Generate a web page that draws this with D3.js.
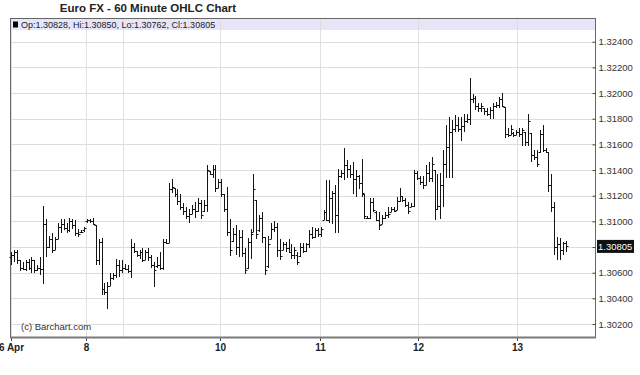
<!DOCTYPE html>
<html>
<head>
<meta charset="utf-8">
<script src="https://cdn.jsdelivr.net/npm/d3@7"></script>
<style>
  body { margin: 0; background: #fff; }
  svg { display: block; font-family: "Liberation Sans", Arial, sans-serif; }
</style>
</head>
<body>
<svg id="ohlc-chart" width="640" height="375"></svg>
<script>
// hourly bars
const opens = [
  1.3072,1.3074,1.3076,1.3070,1.3064,1.3063,1.3068,1.3064,1.3070,1.3062,
  1.3064,1.3063,1.3098,1.3080,1.3086,1.3078,1.3086,1.3096,1.3098,1.3095,
  1.3093,1.3100,1.3097,1.3091,1.3092,1.3093,1.3100,1.3101,1.3100,1.3097,
  1.3070,1.3084,1.3047,1.3045,1.3050,1.3056,1.3058,1.3066,1.3062,1.3064,
  1.3063,1.3061,1.3080,1.3077,1.3074,1.3076,1.3070,1.3076,1.3072,1.3066,
  1.3065,1.3066,1.3064,1.3084,1.3083,1.3125,1.3126,1.3121,1.3116,1.3111,
  1.3108,1.3104,1.3106,1.3110,1.3108,1.3114,1.3108,1.3113,1.3139,1.3137,
  1.3141,1.3126,1.3131,1.3121,1.3110,1.3092,1.3085,1.3090,1.3080,1.3088,
  1.3075,1.3064,1.3084,1.3092,1.3117,1.3093,1.3103,1.3088,1.3065,1.3086,
  1.3094,1.3096,1.3078,1.3078,1.3082,1.3079,1.3076,1.3074,1.3074,1.3073,
  1.3080,1.3077,1.3082,1.3090,1.3088,1.3093,1.3090,1.3101,1.3107,1.3101,
  1.3118,1.3122,1.3105,1.3135,1.3138,1.3144,1.3141,1.3137,1.3133,1.3135,
  1.3130,1.3121,1.3103,1.3103,1.3115,1.3107,1.3101,1.3098,1.3103,1.3105,
  1.3107,1.3110,1.3109,1.3116,1.3120,1.3117,1.3113,1.3111,1.3112,1.3138,
  1.3134,1.3131,1.3128,1.3138,1.3134,1.3140,1.3110,1.3112,1.3128,1.3145,
  1.3158,1.3170,1.3172,1.3175,1.3172,1.3174,1.3178,1.3180,1.3195,1.3196,
  1.3190,1.3188,1.3188,1.3186,1.3184,1.3187,1.3190,1.3191,1.3195,1.3189,
  1.3168,1.3167,1.3169,1.3167,1.3170,1.3168,1.3170,1.3162,1.3169,1.3152,
  1.3150,1.3154,1.3168,1.3156,1.3154,1.3128,1.3111,1.3080,1.3082,1.3078,
  1.30828
]
const highs = [
  1.3076,1.3078,1.3078,1.3070,1.3068,1.3070,1.3071,1.3072,1.3070,1.3066,
  1.3072,1.3112,1.3102,1.3089,1.3091,1.3088,1.3099,1.3102,1.3102,1.3099,
  1.3103,1.3102,1.3101,1.3094,1.3093,1.3096,1.3102,1.3102,1.3103,1.3097,
  1.3086,1.3087,1.3052,1.3053,1.3060,1.3060,1.3071,1.3070,1.3070,1.3067,
  1.3066,1.3086,1.3083,1.3077,1.3078,1.3079,1.3078,1.3079,1.3074,1.3068,
  1.3072,1.3076,1.3086,1.3086,1.3130,1.3133,1.3126,1.3125,1.3121,1.3114,
  1.3111,1.3110,1.3113,1.3115,1.3118,1.3117,1.3117,1.3144,1.3139,1.3144,
  1.3144,1.3133,1.3133,1.3121,1.3127,1.3102,1.3095,1.3097,1.3093,1.3093,
  1.3079,1.3087,1.3094,1.3137,1.3117,1.3105,1.3107,1.3088,1.3089,1.3099,
  1.3100,1.3099,1.3086,1.3084,1.3084,1.3086,1.3082,1.3080,1.3076,1.3083,
  1.3083,1.3083,1.3093,1.3096,1.3095,1.3095,1.3096,1.3109,1.3132,1.3132,
  1.3124,1.3128,1.3141,1.3140,1.3157,1.3148,1.3144,1.3146,1.3140,1.3136,
  1.3149,1.3121,1.3104,1.3118,1.3118,1.3108,1.3107,1.3105,1.3107,1.3111,
  1.3111,1.3111,1.3119,1.3126,1.3120,1.3118,1.3115,1.3114,1.3140,1.3139,
  1.3135,1.3135,1.3144,1.3146,1.3150,1.3140,1.3137,1.3138,1.3156,1.3175,
  1.3181,1.3179,1.3183,1.3181,1.3181,1.3184,1.3184,1.3212,1.3199,1.3198,
  1.3192,1.3192,1.3188,1.3188,1.3189,1.3192,1.3193,1.3197,1.3200,1.3189,
  1.3173,1.3175,1.3170,1.3171,1.3173,1.3173,1.3170,1.3184,1.3169,1.3156,
  1.3156,1.3171,1.3175,1.3157,1.3154,1.3137,1.3115,1.3088,1.3087,1.3084,
  1.30850
]
const lows = [
  1.3066,1.3068,1.3067,1.3061,1.3062,1.3061,1.3062,1.3060,1.3060,1.3061,
  1.3058,1.3051,1.3072,1.3079,1.3075,1.3078,1.3086,1.3091,1.3093,1.3091,
  1.3092,1.3094,1.3089,1.3088,1.3091,1.3092,1.3099,1.3099,1.3097,1.3066,
  1.3066,1.3043,1.3043,1.3032,1.3050,1.3054,1.3056,1.3057,1.3060,1.3062,
  1.3060,1.3056,1.3075,1.3072,1.3071,1.3068,1.3070,1.3069,1.3064,1.3049,
  1.3064,1.3062,1.3062,1.3082,1.3083,1.3122,1.3119,1.3113,1.3109,1.3105,
  1.3102,1.3099,1.3106,1.3103,1.3107,1.3102,1.3107,1.3107,1.3136,1.3134,
  1.3123,1.3126,1.3119,1.3107,1.3089,1.3073,1.3084,1.3074,1.3072,1.3072,
  1.3059,1.3063,1.3071,1.3092,1.3086,1.3092,1.3083,1.3058,1.3064,1.3086,
  1.3092,1.3072,1.3070,1.3078,1.3076,1.3075,1.3071,1.3071,1.3066,1.3072,
  1.3075,1.3076,1.3079,1.3086,1.3087,1.3088,1.3088,1.3101,1.3100,1.3099,
  1.3098,1.3091,1.3091,1.3134,1.3132,1.3134,1.3134,1.3121,1.3119,1.3125,
  1.3119,1.3102,1.3102,1.3102,1.3107,1.3100,1.3093,1.3098,1.3102,1.3103,
  1.3107,1.3107,1.3109,1.3115,1.3115,1.3111,1.3106,1.3111,1.3111,1.3132,
  1.3128,1.3125,1.3128,1.3131,1.3131,1.3101,1.3109,1.3102,1.3111,1.3134,
  1.3134,1.3134,1.3170,1.3170,1.3163,1.3170,1.3177,1.3175,1.3192,1.3187,
  1.3185,1.3185,1.3183,1.3182,1.3180,1.3180,1.3188,1.3188,1.3189,1.3165,
  1.3166,1.3167,1.3166,1.3167,1.3166,1.3159,1.3159,1.3159,1.3146,1.3148,
  1.3142,1.3153,1.3154,1.3153,1.3123,1.3107,1.3074,1.3070,1.3070,1.3074,
  1.30762
]
const closes = [
  1.3074,1.3076,1.3070,1.3064,1.3063,1.3068,1.3064,1.3070,1.3062,1.3064,
  1.3063,1.3098,1.3080,1.3086,1.3078,1.3086,1.3096,1.3098,1.3095,1.3093,
  1.3100,1.3097,1.3091,1.3090,1.3092,1.3095,1.3101,1.3100,1.3098,1.3070,
  1.3084,1.3047,1.3045,1.3050,1.3056,1.3058,1.3066,1.3062,1.3064,1.3063,
  1.3061,1.3080,1.3077,1.3074,1.3076,1.3070,1.3076,1.3072,1.3066,1.3062,
  1.3066,1.3064,1.3084,1.3083,1.3125,1.3127,1.3121,1.3116,1.3111,1.3108,
  1.3104,1.3106,1.3110,1.3108,1.3114,1.3105,1.3113,1.3140,1.3137,1.3141,
  1.3126,1.3131,1.3121,1.3110,1.3092,1.3078,1.3090,1.3080,1.3088,1.3075,
  1.3062,1.3084,1.3090,1.3125,1.3090,1.3103,1.3088,1.3062,1.3082,1.3094,
  1.3096,1.3078,1.3073,1.3082,1.3079,1.3076,1.3074,1.3078,1.3068,1.3080,
  1.3077,1.3082,1.3090,1.3088,1.3093,1.3090,1.3094,1.3107,1.3101,1.3118,
  1.3122,1.3105,1.3135,1.3138,1.3144,1.3141,1.3137,1.3133,1.3135,1.3130,
  1.3122,1.3104,1.3103,1.3115,1.3109,1.3101,1.3097,1.3103,1.3105,1.3106,
  1.3110,1.3108,1.3116,1.3120,1.3117,1.3113,1.3108,1.3112,1.3138,1.3134,
  1.3131,1.3128,1.3138,1.3134,1.3145,1.3110,1.3112,1.3128,1.3145,1.3158,
  1.3170,1.3172,1.3175,1.3172,1.3174,1.3178,1.3180,1.3195,1.3196,1.3190,
  1.3188,1.3190,1.3186,1.3184,1.3187,1.3190,1.3191,1.3195,1.3190,1.3168,
  1.3167,1.3172,1.3167,1.3170,1.3168,1.3171,1.3162,1.3178,1.3152,1.3150,
  1.3145,1.3168,1.3156,1.3154,1.3128,1.3111,1.3080,1.3082,1.3078,1.3083,
  1.30805
]

// bar number where each day starts, and its label
const dayStartBar = [0, 25.7, 38.3, 71.5, 105.8, 139.3, 173.2]
const dayLabels = ["6 Apr", "8", "", "10", "11", "12", "13"]

const priceTicks = [1.302, 1.304, 1.306, 1.308, 1.310, 1.312, 1.314, 1.316, 1.318, 1.320, 1.322, 1.324]

let svg = d3.select("#ohlc-chart")

let plot = { left: 10, right: 595, top: 18, bottom: 337 }

let x = d3.scaleLinear()
    .domain([0, opens.length - 1])
    .range([11, 566])

let y = d3.scaleLinear()
    .domain([1.30099, 1.32585])
    .range([plot.bottom, plot.top])

let px = i => Math.round(x(i)) + 0.5
let py = v => Math.round(y(v)) + 0.5

// frame
svg.append("rect")
    .attr("x", plot.left + 0.5)
    .attr("y", plot.top + 0.5)
    .attr("width", plot.right - plot.left)
    .attr("height", plot.bottom - plot.top)
    .style("fill", "#fff")
    .style("stroke", "#666")

// legend strip (grid runs over it)
svg.append("rect")
    .attr("x", plot.left + 1)
    .attr("y", plot.top + 1)
    .attr("width", plot.right - plot.left - 1)
    .attr("height", 11)
    .style("fill", "#e6e6f8")

// grid
svg.append("g")
    .selectAll("line")
    .data(priceTicks)
    .join("line")
    .attr("x1", plot.left + 1)
    .attr("x2", plot.right)
    .attr("y1", d => py(d))
    .attr("y2", d => py(d))
    .style("stroke", "#dcdcdc")

svg.append("g")
    .selectAll("line")
    .data(dayStartBar)
    .join("line")
    .attr("x1", d => px(d))
    .attr("x2", d => px(d))
    .attr("y1", plot.top + 1)
    .attr("y2", plot.bottom)
    .style("stroke", "#dcdcdc")
    .style("stroke-opacity", 0.85)

svg.append("rect")
    .attr("x", 13)
    .attr("y", 21.5)
    .attr("width", 5)
    .attr("height", 6)
    .style("fill", "#000")

let last = opens.length - 1
svg.append("text")
    .attr("x", 21)
    .attr("y", 28)
    .style("font-size", "9px")
    .style("fill", "#222")
    .text("Op:" + opens[last].toFixed(5) + ", Hi:" + highs[last].toFixed(5) +
          ", Lo:" + lows[last].toFixed(5) + ", Cl:" + closes[last].toFixed(5))

// OHLC bars
let bars = svg.append("g")
    .selectAll("g")
    .data(d3.range(opens.length))
    .join("g")
    .style("stroke", "#151515")
    .style("stroke-width", 1)

bars.append("line")
    .attr("x1", i => px(i))
    .attr("x2", i => px(i))
    .attr("y1", i => Math.round(y(highs[i])))
    .attr("y2", i => Math.max(Math.round(y(lows[i])), Math.round(y(highs[i])) + 2))

bars.append("line")
    .attr("x1", i => px(i) - 2)
    .attr("x2", i => px(i))
    .attr("y1", i => py(opens[i]))
    .attr("y2", i => py(opens[i]))

bars.append("line")
    .attr("x1", i => px(i))
    .attr("x2", i => px(i) + 2)
    .attr("y1", i => py(closes[i]))
    .attr("y2", i => py(closes[i]))

// right price axis
let yAxis = svg.append("g")
    .attr("transform", `translate(${plot.right + 0.5},0)`)
    .call(d3.axisRight(y)
        .tickValues(priceTicks)
        .tickFormat(d3.format(".5f"))
        .tickSizeInner(-3)
        .tickSizeOuter(0)
        .tickPadding(3))

yAxis.select(".domain").remove()
yAxis.selectAll("line").style("stroke", "#444")
yAxis.selectAll("text")
    .style("font-size", "9.5px")
    .style("font-family", "'Liberation Sans', Arial, sans-serif")
    .style("fill", "#333")

// last price box
svg.append("rect")
    .attr("x", 597)
    .attr("y", y(closes[last]) - 6.5)
    .attr("width", 37)
    .attr("height", 13)
    .style("fill", "#111")

svg.append("text")
    .attr("x", 598)
    .attr("y", y(closes[last]) + 3.5)
    .style("font-size", "9.5px")
    .style("fill", "#fff")
    .text(closes[last].toFixed(5))

// bottom date axis
let xAxis = svg.append("g")
    .attr("transform", `translate(0,${plot.bottom})`)
    .call(d3.axisBottom(x)
        .tickValues(dayStartBar)
        .tickFormat((d, i) => dayLabels[i])
        .tickSizeInner(4)
        .tickSizeOuter(0)
        .tickPadding(3))

xAxis.select(".domain").remove()
xAxis.selectAll(".tick").attr("transform", d => `translate(${px(d)},0)`)
xAxis.selectAll(".tick")
    .filter((d, i) => dayLabels[i] === "")
    .remove()
xAxis.selectAll("line").style("stroke", "#444")
xAxis.selectAll("text")
    .style("font-size", "10px")
    .style("font-weight", "bold")
    .style("font-family", "'Liberation Sans', Arial, sans-serif")
    .style("fill", "#222")

svg.append("line")
    .attr("x1", plot.left)
    .attr("x2", plot.right + 1)
    .attr("y1", plot.bottom + 0.5)
    .attr("y2", plot.bottom + 0.5)
    .style("stroke", "#7a7a7a")
    .style("stroke-width", 2)

// title and credit
svg.append("text")
    .attr("x", 148)
    .attr("y", 12)
    .attr("text-anchor", "middle")
    .style("font-size", "11.5px")
    .style("font-weight", "bold")
    .style("fill", "#222")
    .text("Euro FX - 60 Minute OHLC Chart")

svg.append("text")
    .attr("x", 21)
    .attr("y", 330)
    .style("font-size", "9.5px")
    .style("fill", "#333")
    .text("(c) Barchart.com")
</script>
</body>
</html>
